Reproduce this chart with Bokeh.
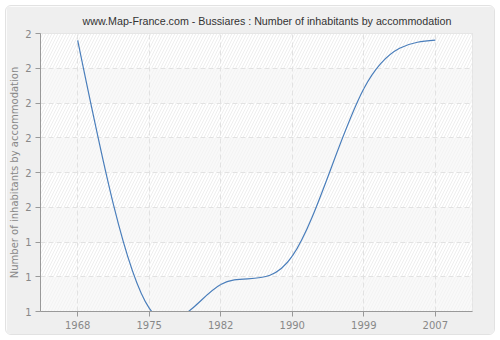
import numpy as np
from bokeh.plotting import figure
from bokeh.models import FixedTicker, Range1d, ColumnDataSource
from bokeh.embed import file_html
from bokeh.resources import INLINE

# ---- data ----
years = ["1968", "1975", "1982", "1990", "1999", "2007"]
values = [1.975, 1.012, 1.097, 1.199, 1.801, 1.976]
y_ticks = [1.0, 1.125, 1.25, 1.375, 1.5, 1.625, 1.75, 1.875, 2.0]
y_tick_labels = ["1", "1", "1", "2", "2", "2", "2", "2", "2"]
title_text = "www.Map-France.com - Bussiares : Number of inhabitants by accommodation"
y_title = "Number of inhabitants by accommodation"

xs = np.arange(len(years), dtype=float)
ys = np.array(values, dtype=float)

# natural cubic spline (uniform spacing) -> bezier segments
n = len(xs) - 1
A = np.zeros((n + 1, n + 1))
b = np.zeros(n + 1)
A[0, 0] = 1
A[n, n] = 1
for i in range(1, n):
    A[i, i - 1] = 1
    A[i, i] = 4
    A[i, i + 1] = 1
    b[i] = 6 * (ys[i + 1] - 2 * ys[i] + ys[i - 1])
M = np.linalg.solve(A, b)
m = np.zeros(n + 1)
for i in range(n):
    m[i] = (ys[i + 1] - ys[i]) - (2 * M[i] + M[i + 1]) / 6
m[n] = (ys[n] - ys[n - 1]) + (2 * M[n] + M[n - 1]) / 6

seg = ColumnDataSource(dict(
    x0=xs[:-1], y0=ys[:-1], x1=xs[1:], y1=ys[1:],
    cx0=xs[:-1] + 1 / 3, cy0=ys[:-1] + m[:-1] / 3,
    cx1=xs[1:] - 1 / 3, cy1=ys[1:] - m[1:] / 3,
))

XL, XR = -0.52, 5.52
p = figure(width=490, height=330, output_backend="svg", toolbar_location=None,
           x_range=Range1d(XL, XR), y_range=Range1d(1.0, 2.0),
           margin=(5, 5, 5, 5))
p.styles = {"border-radius": "6px", "border": "1px solid #e2e2e2", "overflow": "hidden"}

p.title.text = title_text
p.title.align = "left"
p.title.text_font = "Liberation Sans"
p.title.text_font_size = "10.7px"
p.title.text_font_style = "normal"
p.title.text_color = "#333333"
p.title.offset = 42
p.title.standoff = 13

p.border_fill_color = "#efefef"
p.background_fill_color = "#ffffff"
p.outline_line_color = "#dddddd"
p.min_border_left = 0
p.min_border_right = 24
p.min_border_top = 13
p.min_border_bottom = 25

# background bands with hatch
lo = y_ticks[:-1]
hi = y_ticks[1:]
plain = ColumnDataSource(dict(bottom=lo[0::2], top=hi[0::2]))
hatched = ColumnDataSource(dict(bottom=lo[1::2], top=hi[1::2]))
p.quad(left=XL, right=XR, bottom="bottom", top="top", source=plain,
       fill_color="#f9f9f9", line_color=None, level="image",
       hatch_pattern="/", hatch_color="#f3f3f3", hatch_scale=6, hatch_weight=1)
p.quad(left=XL, right=XR, bottom="bottom", top="top", source=hatched,
       fill_color="#ffffff", line_color=None, level="image",
       hatch_pattern="/", hatch_color="#eeeeee", hatch_scale=6, hatch_weight=1)

p.bezier(x0="x0", y0="y0", x1="x1", y1="y1", cx0="cx0", cy0="cy0",
         cx1="cx1", cy1="cy1", source=seg, line_color="#4a7ebb", line_width=1.2)

# axes
p.xaxis.ticker = FixedTicker(ticks=list(xs))
p.xaxis.major_label_overrides = {float(i): y for i, y in enumerate(years)}
p.yaxis.ticker = FixedTicker(ticks=y_ticks)
p.yaxis.major_label_overrides = {t: l for t, l in zip(y_ticks, y_tick_labels)}
p.yaxis.axis_label = y_title
for ax in (p.xaxis, p.yaxis):
    ax.axis_line_color = "#999999"
    ax.major_tick_line_color = "#999999"
    ax.minor_tick_line_color = None
    ax.major_tick_out = 5
    ax.major_tick_in = 0
    ax.major_label_standoff = 4
    ax.major_label_text_color = "#888888"
    ax.major_label_text_font = "DejaVu Sans"
    ax.major_label_text_font_size = "10px"
    ax.axis_label_text_color = "#888888"
    ax.axis_label_text_font = "DejaVu Sans"
    ax.axis_label_text_font_size = "10px"
    ax.axis_label_text_font_style = "normal"
p.yaxis.axis_label_standoff = 2

for g in (p.xgrid, p.ygrid):
    g.grid_line_color = "#e2e2e2"
    g.grid_line_dash = "5 3"
    g.grid_line_width = 1
p.xgrid.ticker = FixedTicker(ticks=list(xs))
p.ygrid.ticker = FixedTicker(ticks=y_ticks)

open("out.html", "w").write(file_html(p, INLINE))
